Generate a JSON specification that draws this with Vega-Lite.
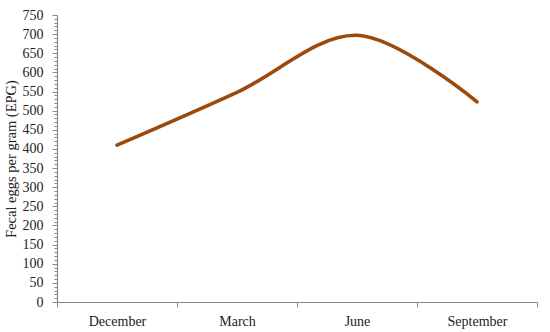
{
  "$schema": "https://vega.github.io/schema/vega-lite/v6.json",
  "autosize": {"type": "none"},
  "padding": {"left": 57, "top": 15, "right": 13, "bottom": 30},
  "width": 480,
  "height": 287,
  "background": "white",
  "config": {
    "view": {"stroke": null},
    "font": "Liberation Serif",
    "axis": {"labelFont": "Liberation Serif", "titleFont": "Liberation Serif", "labelColor": "#222", "titleColor": "#222", "domainColor": "#888", "tickColor": "#888", "grid": false}
  },
  "data": {
    "values": [
      {"month": "December", "epg": 410},
      {"month": "March", "epg": 548},
      {"month": "June", "epg": 697},
      {"month": "September", "epg": 523}
    ]
  },
  "mark": {"type": "line", "interpolate": "catmull-rom", "color": "#9C4A0C", "strokeWidth": 3.6, "strokeCap": "round"},
  "encoding": {
    "x": {
      "field": "month", "type": "ordinal", "sort": null,
      "scale": {"paddingInner": 0, "paddingOuter": 0},
      "axis": {"title": null, "labelAngle": 0, "labelFontSize": 14, "tickBand": "extent", "tickSize": 5, "labelPadding": 7, "domainWidth": 1.2}
    },
    "y": {
      "field": "epg", "type": "quantitative",
      "scale": {"domain": [0, 750], "nice": false},
      "axis": {
        "title": "Fecal eggs per gram (EPG)", "titleFontSize": 14.5, "titleFontWeight": "normal", "titlePadding": 4,
        "values": [0,10,20,30,40,50,60,70,80,90,100,110,120,130,140,150,160,170,180,190,200,210,220,230,240,250,260,270,280,290,300,310,320,330,340,350,360,370,380,390,400,410,420,430,440,450,460,470,480,490,500,510,520,530,540,550,560,570,580,590,600,610,620,630,640,650,660,670,680,690,700,710,720,730,740,750],
        "labelExpr": "datum.value % 50 === 0 ? datum.label : ''",
        "tickSize": {"condition": {"test": "datum.value % 50 === 0", "value": 5}, "value": 3},
        "labelFontSize": 14, "labelPadding": 9, "labelOverlap": false, "domainWidth": 1.2
      }
    }
  }
}
